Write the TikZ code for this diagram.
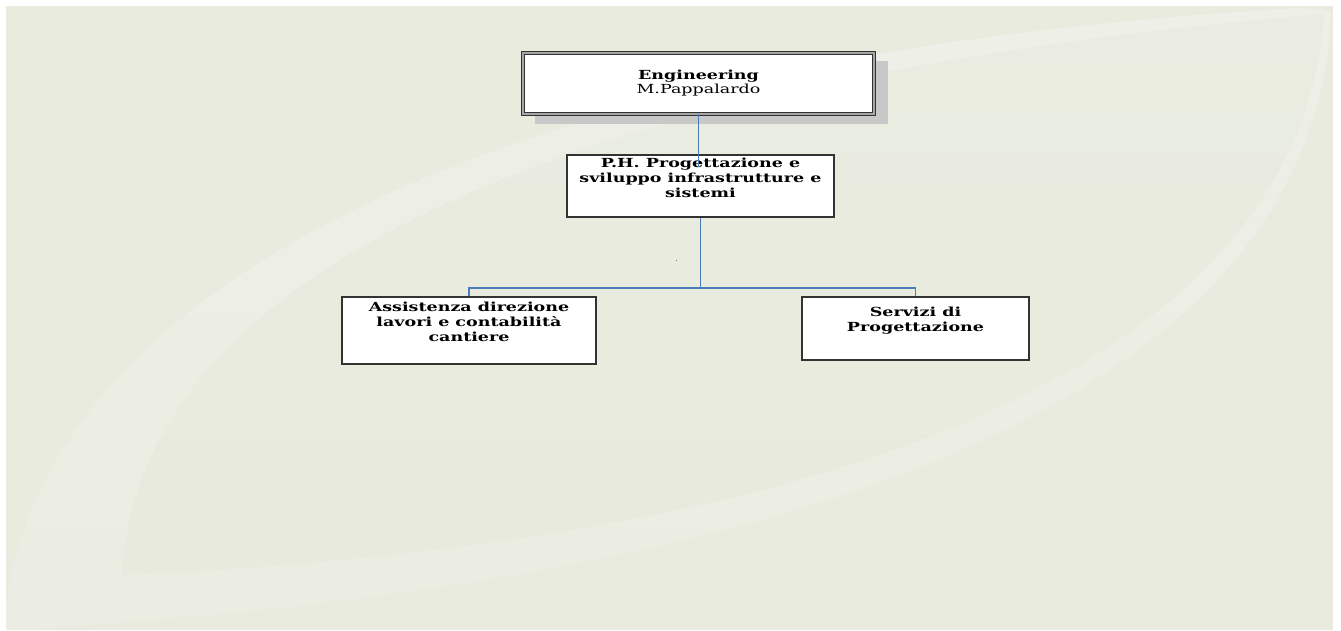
\documentclass[tikz,border=0pt]{standalone}
\usepackage{fontspec}
\setmainfont{DejaVu Serif}
\newfontfamily\bxfont{DejaVu Serif}[FakeStretch=1.4]
\definecolor{bgcol}{HTML}{E9EBDF}
\definecolor{bandtop}{HTML}{EEEFE7}
\definecolor{bandmid}{HTML}{F6F6F2}
\definecolor{bandbot}{HTML}{EBEDE2}
\definecolor{lenstop}{HTML}{EAECE1}
\definecolor{lensmid}{HTML}{F0F1EA}
\definecolor{lensbot}{HTML}{E7EADC}
\definecolor{conncol}{HTML}{4A7EBB}
\definecolor{boxline}{HTML}{333333}
\definecolor{shadowcol}{HTML}{C8C8C8}
\begin{document}
\begin{tikzpicture}[x=1pt,y=-1pt,
  box/.style={draw=boxline, line width=1.2pt, fill=white, inner sep=0pt},
  topbox/.style={draw=boxline, line width=0.8pt, double=gray!70, double distance=1.6pt, fill=white, inner sep=0pt},
  txt/.style={inner sep=0pt, align=center, font=\bxfont\bfseries\fontsize{12.5}{15}\selectfont},
  conn/.style={draw=conncol, line width=1.2pt}]
\useasboundingbox (0,0) rectangle (1341,630);
\fill[white] (0,0) rectangle (1341,630);
\fill[bgcol] (6,6) rectangle (1333,630);
% swoosh band
\shade[top color=bandtop, middle color=bandmid, bottom color=bandbot]
  (6,605) .. controls (40,330) and (400,60) .. (1300,8)
  -- (1331,10) .. controls (1320,360) and (900,580) .. (6,630) -- cycle;
% lens interior
\shade[top color=lenstop, middle color=lensmid, bottom color=lensbot]
  (123,575) .. controls (130,330) and (430,90) .. (1322,14)
  -- (1324,16) .. controls (1300,340) and (900,540) .. (123,575) -- cycle;
% shadow of top box
\fill[shadowcol] (535,61) rectangle (888,124);
% boxes
\node[topbox, minimum width=351pt, minimum height=61pt, align=center,
      font=\bxfont\fontsize{12.5}{14}\selectfont] (top) at (698.5,83.5)
  {\textbf{Engineering}\\ M.Pappalardo};
\node[box, minimum width=267pt, minimum height=62pt] (ph) at (700.5,186) {};
\node[box, minimum width=254pt, minimum height=67pt] (assist) at (469,330.5) {};
\node[box, minimum width=227pt, minimum height=63pt] (serv) at (915.5,328.5) {};
% texts
\node[txt, anchor=north] (phT) at ([yshift=-3pt]ph.north) {P.H. Progettazione e\\ sviluppo infrastrutture e\\ sistemi};
\node[txt, anchor=north] (assistT) at ([yshift=-5.5pt]assist.north) {Assistenza direzione\\ lavori e contabilità\\ cantiere};
\node[txt, anchor=north] (servT) at ([yshift=-10.5pt]serv.north) {Servizi di\\ Progettazione};
% connectors
\coordinate (bar) at (700,288);
\draw[conn] (top.south) -- ([yshift=-13pt]top.south |- ph.north);
\draw[conn] (ph.south) -- (ph.south |- bar);
\draw[conn] (assist.north) -- (assist.north |- bar) -- (serv.north |- bar) -- (serv.north);
\fill[conncol] (675.5,259.5) rectangle (677,261);
\end{tikzpicture}
\end{document}
